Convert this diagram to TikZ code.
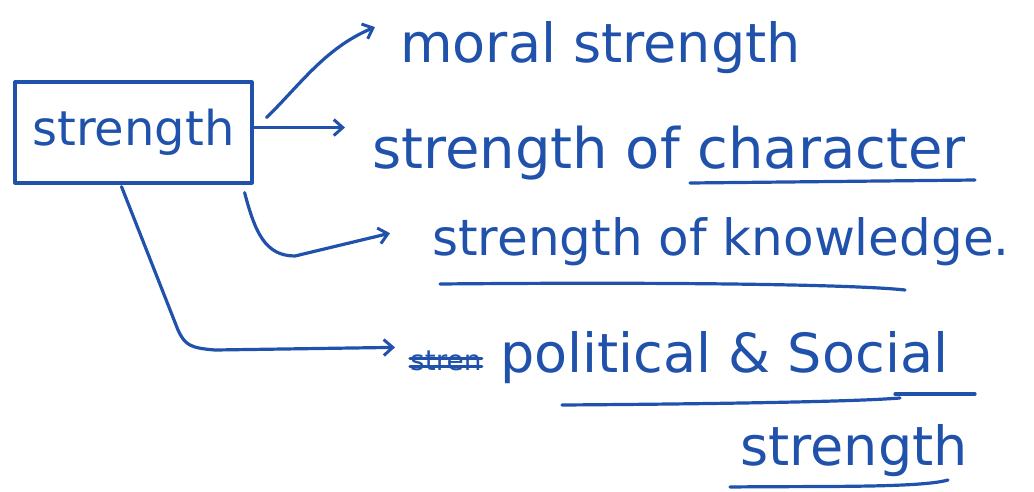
\documentclass[tikz,border=0pt]{standalone}
\usepackage{fontspec}
\setmainfont{DejaVu Sans}
\usetikzlibrary{arrows.meta,calc}
\definecolor{ink}{RGB}{32,82,172}
\tikzset{
  ink/.style={draw=ink, line width=3.2pt, line cap=round, line join=round},
  conn/.style={ink, -{Straight Barb[length=9pt,width=16pt,line width=3pt]}},
  boxnode/.style={ink, text=ink, minimum width=237pt, minimum height=101pt, inner sep=0pt, font=\fontsize{48}{56}\selectfont},
  lbl/.style={text=ink, inner sep=0pt, anchor=base west, font=\fontsize{54}{62}\selectfont},
  small/.style={text=ink, inner sep=0pt, anchor=base west, font=\fontsize{28}{32}\selectfont}
}
\begin{document}
\begin{tikzpicture}[x=1pt,y=-1pt]
\useasboundingbox (0,0) rectangle (1034,491);
\node[boxnode] (s) at (133.5,132.5) {strength};
\node[lbl] (m) at (400,62) {moral strength};
\node[lbl, font=\fontsize{56}{64}\selectfont] (c) at (372,168) {strength of character};
\node[lbl, font=\fontsize{50}{58}\selectfont] (k) at (432,255) {strength of knowledge.};
\node[small] (x) at (410,370) {stren};
\node[lbl] (p) at (500,372) {political \& Social};
\node[lbl] (t) at (740,465) {strength};
% strike-through
\draw[ink] ($(x.west)+(0,-2)$) -- ($(x.east)+(0,-2)$);
\draw[ink] ($(x.west)+(0,6)$) -- ($(x.east)+(0,6)$);
% connectors
\coordinate (a1) at ($(s.east)+(13,-15)$);
\coordinate (b1) at ($(m.west)+(-25,-20)$);
\draw[conn] (a1) .. controls (300,85) and (325,48) .. (b1);
\coordinate (b2) at ($(c.west)+(-27,-25)$);
\draw[conn] (s.east |- b2) -- (b2);
\coordinate (a3) at ($(s.south east)+(-9,8)$);
\coordinate (b3) at ($(k.west)+(-42,-8)$);
\draw[conn] (a3) .. controls (255,232) and (265,256) .. (295,256) -- (b3);
\coordinate (a4) at ($(s.south)+(-12,2)$);
\coordinate (b4) at ($(x.west)+(-15,-13)$);
\draw[conn] (a4) -- (178,330) .. controls (185,345) and (190,348) .. (215,350) -- (b4);
% underlines
\draw[ink] (690,183) -- (975,180);
\draw[ink] (440,284) .. controls (650,282) and (850,284) .. (905,290);
\draw[ink] (562,405) .. controls (700,404) and (850,402) .. (900,398);
\draw[ink] (895,394) -- (975,394);
\draw[ink] (730,487) .. controls (820,486) and (920,488) .. (948,480);
\end{tikzpicture}
\end{document}
